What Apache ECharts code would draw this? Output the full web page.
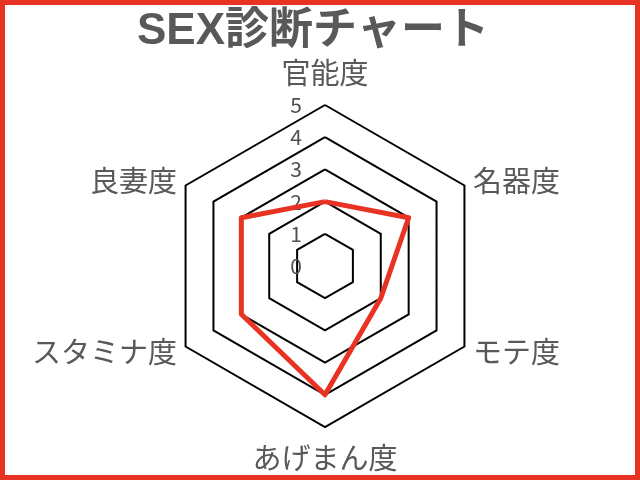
<!DOCTYPE html>
<html>
<head>
<meta charset="utf-8">
<script src="https://cdn.jsdelivr.net/npm/echarts@6/dist/echarts.min.js"></script>
<style>
    html, body { margin: 0; padding: 0; background: #fff; }
    .wrap { position: relative; width: 640px; height: 480px; }
    .container { position: absolute; left: 0; top: 0; width: 640px; height: 480px; }
    .frame { position: absolute; left: 0; top: 0; width: 640px; height: 480px;
             box-sizing: border-box; border: 5px solid #e83323; pointer-events: none; }
</style>
</head>
<body>
<div class="wrap">
    <div class="container"></div>
    <div class="frame"></div>
</div>
<script>
// 項目 (上から反時計回り)
var namedate = ['官能度', '良妻度', 'スタミナ度', 'あげまん度', 'モテ度', '名器度'];
var numdate = [2, 3, 3, 4, 2, 3];
var maxdate = 5;
var ticklist = [0, 1, 2, 3, 4, 5];

var fontName = '"Noto Sans CJK JP", "Noto Sans", sans-serif';
var dom = document.querySelector('.container');
var myChart = echarts.init(dom);

var indicator = namedate.map(function (n) {
    return { name: n, max: maxdate, min: 0 };
});

option = {
    animation: false,
    title: {
        text: 'SEX診断チャート',
        left: 132,
        top: 5,
        textStyle: {
            color: '#595959',
            fontSize: 44,
            fontWeight: 'bold',
            fontFamily: '"Liberation Sans", "Noto Sans CJK JP", sans-serif'
        }
    },
    // レーダー本体
    radar: {
        center: [325, 266],
        radius: 161,
        startAngle: 90,
        splitNumber: ticklist.length - 1,
        shape: 'polygon',
        nameGap: 10,
        indicator: indicator,
        axisName: {
            color: '#595959',
            fontSize: 29,
            fontFamily: fontName,
            formatter: function (name) {
                if (name === namedate[0]) return '{t|' + name + '}';
                if (name === namedate[3]) return '{b|' + name + '}';
                return name;
            },
            rich: {
                t: { color: '#595959', fontSize: 29, fontFamily: fontName, padding: [0, 0, 8, 0] },
                b: { color: '#595959', fontSize: 29, fontFamily: fontName, padding: [6, 0, 0, 0] }
            }
        },
        axisLine: { show: false },
        splitArea: { show: false },
        splitLine: {
            lineStyle: { color: '#000', width: 2 }
        }
    },
    // 目盛りの数字用
    polar: {
        center: [325, 266],
        radius: 161
    },
    angleAxis: {
        type: 'value',
        startAngle: 90,
        show: false
    },
    radiusAxis: {
        type: 'value',
        min: ticklist[0],
        max: ticklist[ticklist.length - 1],
        interval: 1,
        axisLine: { show: false },
        axisTick: { show: false },
        splitLine: { show: false },
        axisLabel: {
            margin: 23,
            color: '#505050',
            fontSize: 21,
            fontFamily: fontName,
            formatter: function (v) { return ticklist.indexOf(v) >= 0 ? String(v) : ''; }
        }
    },
    series: [
        {
            type: 'radar',
            symbol: 'none',
            lineStyle: { color: '#e83323', width: 5 },
            areaStyle: null,
            data: [{ value: numdate, name: 'SEX診断' }]
        }
    ]
};
myChart.setOption(option);
</script>
</body>
</html>
